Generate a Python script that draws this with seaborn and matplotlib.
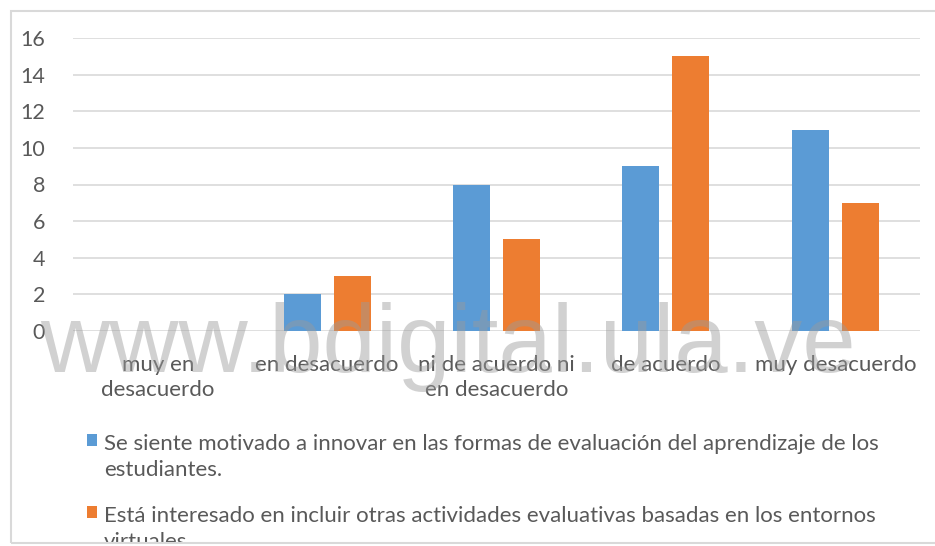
import matplotlib
matplotlib.use("Agg")
import pandas as pd
import seaborn as sns
import matplotlib.pyplot as plt
from matplotlib.patches import Rectangle

categories = ["muy en\ndesacuerdo", "en desacuerdo", "ni de acuerdo ni\nen desacuerdo",
              "de acuerdo", "muy desacuerdo"]
motivado = [0, 2, 8, 9, 11]
interesado = [0, 3, 5, 15, 7]
series_names = [
    "Se siente motivado a innovar en las formas de evaluación del aprendizaje de los\nestudiantes.",
    "Está interesado en incluir otras actividades evaluativas basadas en los entornos\nvirtuales",
]
yticks = [0, 2, 4, 6, 8, 10, 12, 14, 16]
colors = ["#5B9BD5", "#ED7D31"]

df = pd.DataFrame({
    "categoria": categories * 2,
    "valor": motivado + interesado,
    "serie": [series_names[0]] * len(categories) + [series_names[1]] * len(categories),
})

sns.set_style("white")
plt.rcParams["font.family"] = ["Lato", "DejaVu Sans"]
text_color = "#595959"

W, H = 935, 546
fig = plt.figure(figsize=(W / 100, H / 100), dpi=100)
ax = fig.add_axes([73 / W, 1 - 331 / H, (920 - 73) / W, (331 - 38) / H])

sns.barplot(data=df, x="categoria", y="valor", hue="serie", palette=colors,
            saturation=1, width=0.59, gap=0.26, linewidth=0, ax=ax)

ax.set_ylim(0, 16)
ax.set_xlim(-0.5, len(categories) - 0.5)
ax.set_yticks(yticks)
ax.yaxis.grid(True, color="#d9d9d9", lw=1.2)
ax.set_axisbelow(True)
for s in ax.spines.values():
    s.set_visible(False)
ax.set_xlabel("")
ax.set_ylabel("")
ax.tick_params(axis="both", length=0, colors=text_color)
ax.tick_params(axis="y", pad=20, labelsize=15.5)
ax.tick_params(axis="x", pad=17, labelsize=16)
for t in ax.get_xticklabels():
    t.set_linespacing(1.35)

handles, labels = ax.get_legend_handles_labels()
ax.get_legend().remove()
leg = fig.legend(handles, labels, loc="upper left", bbox_to_anchor=(87 / W, 1 - 434 / H),
                 frameon=False, fontsize=16, handlelength=0.45, handleheight=0.45,
                 handletextpad=0.3, labelspacing=1.15, borderaxespad=0, borderpad=0,
                 labelcolor=text_color)
for t in leg.get_texts():
    t.set_linespacing(1.4)
for hp in leg._legend_handle_box.get_children()[0].get_children():
    hp.align = "top"

# watermark
fig.text(40 / W, 1 - 372 / H, "www.bdigital.ula.ve", fontsize=69,
         family="Liberation Sans", color="#9a9a9a", alpha=0.45,
         va="baseline", ha="left", zorder=10)

# chart border, clipped at the bottom like the original
fig.patches.append(Rectangle((0, 0), 1, 3 / H, transform=fig.transFigure,
                             facecolor="white", edgecolor="none", zorder=20))
fig.patches.append(Rectangle((11 / W, 3 / H), 1.0, 1 - 14 / H, transform=fig.transFigure,
                             facecolor="none", edgecolor="#d9d9d9", lw=1.5, zorder=21))

fig.savefig("out.png", dpi=100)
